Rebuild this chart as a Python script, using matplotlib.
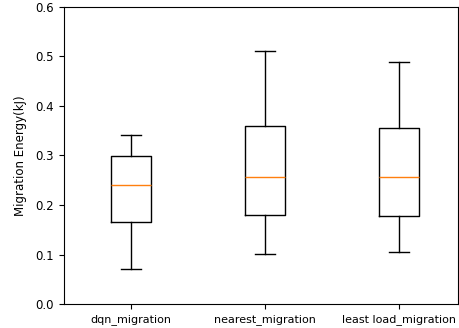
import matplotlib
matplotlib.use("Agg")
import matplotlib.pyplot as plt

# box statistics
labels = ["dqn_migration", "nearest_migration", "least load_migration"]
whislo = [0.070, 0.101, 0.105]
q1 = [0.166, 0.180, 0.177]
med = [0.240, 0.257, 0.257]
q3 = [0.299, 0.359, 0.355]
whishi = [0.341, 0.511, 0.488]

stats = []
for i in range(len(labels)):
    stats.append({"label": labels[i], "whislo": whislo[i], "q1": q1[i],
                  "med": med[i], "q3": q3[i], "whishi": whishi[i], "fliers": []})

fig = plt.figure(figsize=(4.6, 3.28), dpi=100)
ax = fig.add_axes([0.139, 0.073, 0.857, 0.906])
ax.bxp(stats, showfliers=False)
ax.set_xlim(0.5, 3.44)
ax.set_ylim(0.0, 0.6)
ax.set_ylabel("Migration Energy(kJ)", fontsize=8.5, labelpad=6)
ax.tick_params(axis="y", labelsize=8.5)
ax.tick_params(axis="x", labelsize=8)
fig.savefig("out.png", dpi=100)
